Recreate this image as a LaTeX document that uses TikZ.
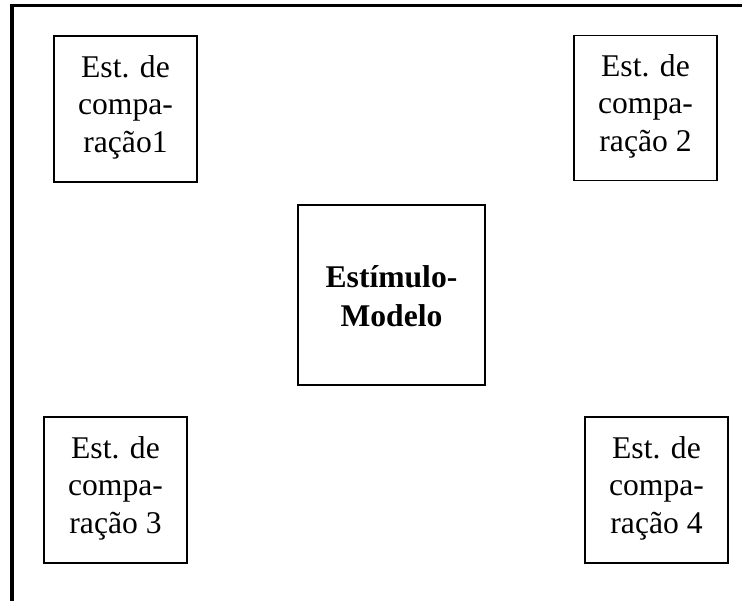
\documentclass[tikz,border=0pt]{standalone}
\usepackage{fontspec}
\setmainfont{Liberation Serif}
\begin{document}
\begin{tikzpicture}[x=1pt,y=-1pt,
  box/.style={draw, line width=1.5pt, inner sep=0pt},
  lbl/.style={align=center, font=\fontsize{31.6}{37.5}\selectfont, inner sep=0pt},
  framestyle/.style={line width=3.6pt, line join=miter}]
\useasboundingbox (0,0) rectangle (742,601);
% outer frame (left and top sides)
\coordinate (fbot) at (12,601);
\coordinate (fcorner) at (12,5.6);
\coordinate (fright) at (742,5.6);
\draw[framestyle] (fbot) -- (fcorner) -- (fright);
% boxes
\node[box, minimum width=143pt, minimum height=146pt] (b1) at (125.5,109) {};
\node[box, minimum width=143pt, minimum height=145pt] (b2) at (645.5,108) {};
\node[box, minimum width=187pt, minimum height=180pt] (bm) at (391.5,295) {};
\node[box, minimum width=143pt, minimum height=146pt] (b3) at (115.5,490) {};
\node[box, minimum width=143pt, minimum height=146pt] (b4) at (656.5,490) {};
% labels
\node[lbl, yshift=2pt] (t1) at (b1.center) {Est. de\\compa-\\ração1};
\node[lbl, yshift=2pt] (t2) at (b2.center) {Est. de\\compa-\\ração 2};
\node[lbl, yshift=-1.5pt, font=\fontsize{31.6}{39}\selectfont\bfseries] (tm) at (bm.center) {Estímulo-\\Modelo};
\node[lbl, yshift=2pt] (t3) at (b3.center) {Est. de\\compa-\\ração 3};
\node[lbl, yshift=2pt] (t4) at (b4.center) {Est. de\\compa-\\ração 4};
\end{tikzpicture}
\end{document}
